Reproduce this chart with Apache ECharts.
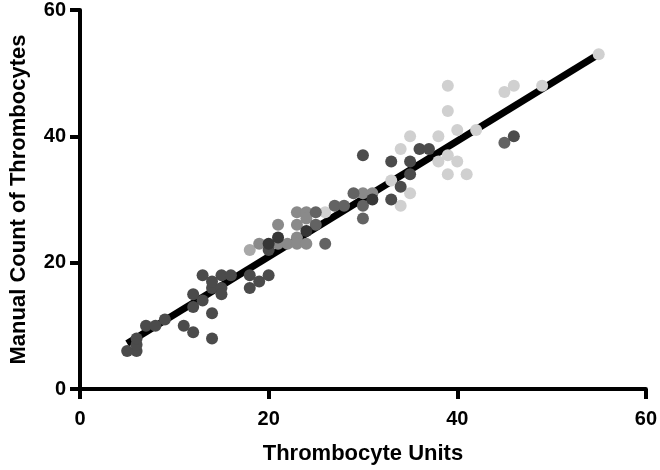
<!DOCTYPE html>
<html>
<head>
<meta charset="utf-8">
<script src="https://cdn.jsdelivr.net/npm/echarts@6/dist/echarts.min.js"></script>
<style>html,body{margin:0;padding:0;background:#fff;}#c{width:660px;height:470px;}</style>
</head>
<body>
<div id="c"></div>
<script>
// Axis ticks
var xTicks = [0, 20, 40, 60];
var yTicks = [0, 20, 40, 60];

// Point groups [Thrombocyte Units, Manual Count]
var darkPts = [[5,6],[6,6],[6,7],[6,8],[7,10],[8,10],[9,11],[11,10],[12,9],[12,13],[12,15],[13,14],[14,12],[14,8],[13,18],[14,16],[14,17],[15,16],[15,18],[15,15],[16,18],[18,18],[18,16],[19,17],[20,18],[20,22],[35,36],[35,34],[36,38],[37,38],[33,36],[33,30],[34,32],[46,40],[30,37]];
var darkestPts = [[20,23],[21,24],[24,25],[31,30]];
var midDarkPts = [[25,28],[25,26],[26,23],[27,29],[28,29],[29,31],[30,29],[30,27],[45,39]];
var midPts = [[19,23],[21,26],[21,23],[22,23],[23,28],[23,26],[23,24],[23,23],[24,28],[24,27],[24,23],[30,31],[31,31]];
var lightMidPts = [[18,22]];
var lightPts = [[26,28],[33,33],[34,38],[35,40],[38,40],[39,48],[39,44],[40,41],[42,41],[38,36],[39,37],[40,36],[39,34],[41,34],[35,31],[34,29],[45,47],[46,48],[49,48],[55,53]];

// Regression line endpoints
var fitX = [5, 55];
var fitY = [7.2, 53.0];

var chart = echarts.init(document.getElementById('c'), null, {renderer: 'canvas'});
function scatter(data, color) {
  return {type: 'scatter', data: data, symbolSize: 12, z: 3,
    itemStyle: {color: color, opacity: 1}, silent: true};
}
var font = 'Liberation Sans, Arial, sans-serif';
var axisCommon = {
  type: 'value', min: 0, max: 60, interval: 20,
  splitLine: {show: false},
  axisLine: {show: true, onZero: true, lineStyle: {color: '#000', width: 4}},
  axisTick: {show: true, length: 10, lineStyle: {color: '#000', width: 4}},
  nameLocation: 'middle',
  nameTextStyle: {fontFamily: font, fontWeight: 'bold', fontSize: 22, color: '#000'}
};
chart.setOption({
  animation: false,
  grid: {left: 72, right: 13, top: 8, bottom: 80},
  xAxis: Object.assign({}, axisCommon, {
    name: 'Thrombocyte Units', nameGap: 54,
    axisLabel: {margin: 20, fontFamily: font, fontWeight: 'bold', fontSize: 20, color: '#000',
      formatter: function(v){ return xTicks.indexOf(v) >= 0 ? String(v) : ''; }}
  }),
  yAxis: Object.assign({}, axisCommon, {
    name: 'Manual Count of Thrombocytes', nameGap: 50, nameRotate: 90,
    axisLabel: {margin: 14, fontFamily: font, fontWeight: 'bold', fontSize: 20, color: '#000',
      formatter: function(v){ return yTicks.indexOf(v) >= 0 ? String(v) : ''; }}
  }),
  series: [
    {type: 'line', data: fitX.map(function(x, i){ return [x, fitY[i]]; }), symbol: 'none', z: 2,
      lineStyle: {color: '#000', width: 7}, silent: true},
    scatter(lightPts, '#d0d0d0'),
    scatter(lightMidPts, '#a8a8a8'),
    scatter(midPts, '#8a8a8a'),
    scatter(midDarkPts, '#636363'),
    scatter(darkPts, '#4b4b4b'),
    scatter(darkestPts, '#363636')
  ]
});
</script>
</body>
</html>
